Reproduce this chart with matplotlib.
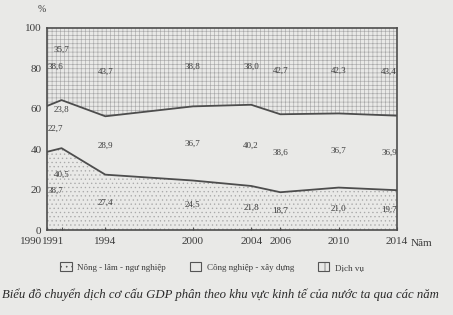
import matplotlib
matplotlib.use("Agg")
import matplotlib.pyplot as plt
import matplotlib.transforms as mtransforms
from matplotlib.patches import Patch
import numpy as np

years = [1990, 1991, 1994, 2000, 2004, 2006, 2010, 2014]
agri = [38.7, 40.5, 27.4, 24.5, 21.8, 18.7, 21.0, 19.7]
industry = [22.7, 23.8, 28.9, 36.7, 40.2, 38.6, 36.7, 36.9]
services = [38.6, 35.7, 43.7, 38.8, 38.0, 42.7, 42.3, 43.4]
yticks = [0, 20, 40, 60, 80, 100]
legend_labels = ["Nông - lâm - ngư nghiệp", "Công nghiệp - xây dựng", "Dịch vụ"]
caption = "Biểu đồ chuyển dịch cơ cấu GDP phân theo khu vực kinh tế của nước ta qua các năm"

plt.rcParams['hatch.linewidth'] = 0.45
serif = ['Liberation Serif', 'DejaVu Serif']
bg = '#e9e9e7'
line_c = '#4d4d4d'
hatch_c = '#a9a9a9'
text_c = '#3c3c3c'

fig = plt.figure(figsize=(4.53, 3.15), dpi=100)
fig.patch.set_facecolor(bg)
ax = fig.add_axes([47/453, 1-230/315, 350/453, 202/315])
ax.set_facecolor(bg)

x = np.array(years, dtype=float)
a = np.array(agri)
i = np.array(industry)
s = np.array(services)
c1 = a
c2 = a + i

ax.fill_between(x, 0, c1, facecolor=bg, edgecolor=hatch_c, hatch='....', linewidth=0)
ax.fill_between(x, c1, c2, facecolor=bg, edgecolor='none', linewidth=0)
ax.fill_between(x, c2, 100, facecolor=bg, edgecolor=hatch_c, hatch='++++', linewidth=0)
ax.plot(x, c1, color=line_c, lw=1.3)
ax.plot(x, c2, color=line_c, lw=1.3)

ax.set_xlim(1990, 2014)
ax.set_ylim(0, 100)
for sp in ax.spines.values():
    sp.set_color(line_c)
    sp.set_linewidth(1.2)

ax.set_yticks(yticks)
ax.set_yticklabels([str(v) for v in yticks], family=serif, fontsize=8, color=text_c)
ax.tick_params(axis='y', length=0, pad=4)
ax.set_xticks(years)
ax.set_xticklabels([str(y) for y in years], family=serif, fontsize=8, color=text_c)
ax.tick_params(axis='x', length=2, direction='in', pad=5, colors=line_c, labelcolor=text_c)
lbls = ax.get_xticklabels()
lbls[0].set_ha('right')
lbls[0].set_transform(lbls[0].get_transform() + mtransforms.ScaledTranslation(-5/100, 0, fig.dpi_scale_trans))
lbls[1].set_transform(lbls[1].get_transform() + mtransforms.ScaledTranslation(-8/100, 0, fig.dpi_scale_trans))

fig.text(42/453, 1-9/315, "%", family=serif, fontsize=7, color=text_c, ha='center', va='center')
fig.text(411/453, 1-244/315, "Năm", family=serif, fontsize=8, color=text_c, ha='left', va='center')

# value labels
for k, yr in enumerate(years):
    off = 7 if yr == 1991 else 0
    ha = 'center'
    xp = yr
    if yr == 1990:
        ha = 'left'; xp = yr + 0.05
    elif yr == 2014:
        ha = 'right'; xp = yr
    ys = [a[k] / 2 + off, a[k] + i[k] / 2 + off, 100 - s[k] / 2 + off]
    vals = [a[k], i[k], s[k]]
    for yv, v in zip(ys, vals):
        ax.text(xp, yv, f"{v:.1f}".replace('.', ','), ha=ha, va='center',
                family=serif, fontsize=6.5, color=text_c)

handles = [Patch(facecolor=bg, edgecolor='#555555', hatch='...', linewidth=0.8),
           Patch(facecolor=bg, edgecolor='#555555', linewidth=0.8),
           Patch(facecolor=bg, edgecolor='#555555', hatch='+', linewidth=0.8)]
leg = fig.legend(handles, legend_labels, loc='center', bbox_to_anchor=(212/453, 1-267/315),
                 ncol=3, frameon=False, handlelength=1.3, handleheight=1.0,
                 handletextpad=0.6, columnspacing=2.6,
                 prop={'family': serif, 'size': 6.5})
for t in leg.get_texts():
    t.set_color(text_c)

fig.text(2/453, 1-295/315, caption, family=serif, style='italic', fontsize=9.2,
         color='#2a2a2a', ha='left', va='center')

fig.savefig("out.png", dpi=100, facecolor=bg)
